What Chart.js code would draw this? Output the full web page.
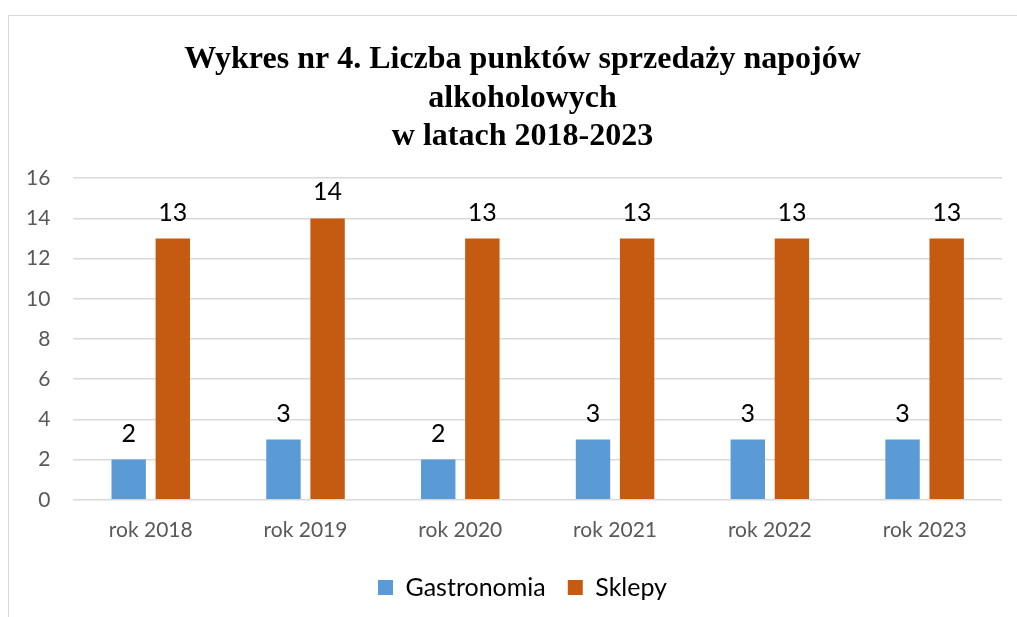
<!DOCTYPE html>
<html>
<head>
<meta charset="utf-8">
<script src="https://cdn.jsdelivr.net/npm/chart.js@4"></script>
<style>
    html, body { margin: 0; padding: 0; background: #fff; overflow: hidden; }
    #box {
        position: absolute; left: 8px; top: 15px;
        width: 1018px; height: 620px;
        border: 1px solid #d9d9d9; box-sizing: border-box;
        overflow: hidden;
    }
    #wrap { position: absolute; left: -12px; top: 0; width: 1040px; height: 618px; }
</style>
</head>
<body>
<div id="box"><div id="wrap"><canvas id="myChart"></canvas></div></div>
<script>
const lata = ['rok 2018', 'rok 2019', 'rok 2020', 'rok 2021', 'rok 2022', 'rok 2023'];
const gastronomia = [2, 3, 2, 3, 3, 3];
const sklepy = [13, 14, 13, 13, 13, 13];
const tytul = ['Wykres nr 4. Liczba punktów sprzedaży napojów', 'alkoholowych', 'w latach 2018-2023'];

// etykiety z wartościami nad słupkami
const etykiety = {
    id: 'etykiety',
    afterDatasetsDraw(chart) {
        const ctx = chart.ctx;
        ctx.save();
        ctx.font = '25px Lato';
        ctx.fillStyle = '#000';
        ctx.textAlign = 'center';
        ctx.textBaseline = 'alphabetic';
        chart.data.datasets.forEach((ds, i) => {
            chart.getDatasetMeta(i).data.forEach((bar, j) => {
                ctx.fillText(ds.data[j], bar.x, bar.y - 18);
            });
        });
        ctx.restore();
    }
};

// tytuł i legenda są w oryginale trochę w prawo od środka
const przesun = {
    id: 'przesun',
    afterLayout(chart) {
        const dx = 20;
        [chart.titleBlock, chart.legend].forEach(b => {
            if (b) { b.left += dx; b.right += dx; }
        });
    }
};

new Chart(document.getElementById('myChart').getContext('2d'), {
    type: 'bar',
    data: {
        labels: lata,
        datasets: [
            { label: 'Gastronomia', data: gastronomia, backgroundColor: '#5b9bd5' },
            { label: 'Sklepy', data: sklepy, backgroundColor: '#c55a11' }
        ]
    },
    options: {
        responsive: true,
        maintainAspectRatio: false,
        animation: false,
        categoryPercentage: 0.57,
        barPercentage: 0.78,
        layout: { padding: { left: 6, right: 35, top: 25, bottom: 24 } },
        plugins: {
            title: {
                display: true,
                text: tytul,
                font: { family: 'Liberation Serif', size: 32, weight: 'bold' },
                color: '#000',
                padding: { top: 0, bottom: 22 },
                lineHeight: 1.07
            },
            legend: {
                position: 'bottom',
                labels: {
                    font: { family: 'Lato', size: 25 },
                    color: '#000',
                    boxWidth: 15,
                    boxHeight: 15,
                    padding: 22
                }
            },
            tooltip: { enabled: false }
        },
        scales: {
            x: {
                grid: { display: false },
                border: { display: false },
                ticks: { font: { family: 'Lato', size: 21 }, color: '#595959', padding: 10 }
            },
            y: {
                min: 0,
                max: 16,
                ticks: { stepSize: 2, font: { family: 'Lato', size: 21 }, color: '#595959', padding: 23 },
                grid: { color: '#d9d9d9', lineWidth: 1.5, drawTicks: false },
                border: { display: false }
            }
        }
    },
    plugins: [etykiety, przesun]
});
</script>
</body>
</html>
